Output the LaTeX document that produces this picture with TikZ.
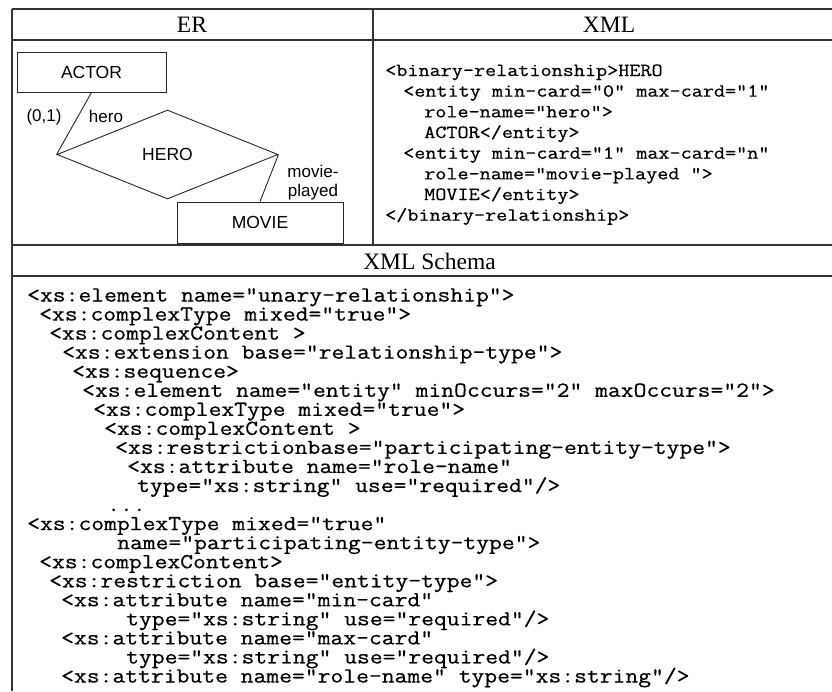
\documentclass[tikz,border=0pt]{standalone}
\usepackage{fontspec}
\usepackage{graphicx}
\setmainfont{Liberation Serif}
\setsansfont{Liberation Sans}
\newfontfamily\codefont{Latin Modern Mono}[FakeBold=0.5]
\newcommand{\vsq}[1]{\scalebox{1}[0.86]{#1}}
\usetikzlibrary{shapes.geometric}
\begin{document}
\begin{tikzpicture}[x=1pt,y=-1pt,
  rule/.style={line width=1.6pt, draw=black!80},
  er/.style={draw=black!85, line width=0.9pt},
  entitybox/.style={er, inner sep=0pt, font=\sffamily\fontsize{17.5}{18}\selectfont},
  lbl/.style={inner sep=0pt, font=\sffamily\fontsize{17}{18}\selectfont},
  head/.style={inner sep=0pt, font=\fontsize{23.5}{24}\selectfont},
  codeS/.style={anchor=base west, inner sep=0pt, text height=13pt, text depth=5pt,
                font=\codefont\fontsize{24.9}{20}\selectfont},
  codeX/.style={anchor=base west, inner sep=0pt, text height=14pt, text depth=5pt,
                font=\codefont\fontsize{21.55}{20}\selectfont}]
\useasboundingbox (0,0) rectangle (832,691);
% table rules
\draw[rule] (12,9) -- (832,9);
\draw[rule] (12,40) -- (832,40);
\draw[rule] (12,245) -- (832,245);
\draw[rule] (12,276) -- (832,276);
\draw[rule] (12,9) -- (12,691);
\draw[rule] (373,9) -- (373,245);
% headers
\node[head] (hER) at (192,25) {ER};
\node[head] (hXML) at (609,25) {XML};
\node[head] (hXS) at (429.5,261) {XML Schema};
% ER diagram
\node[entitybox, minimum width=149pt, minimum height=40pt] (actor) at (91.5,72) {ACTOR};
\node[entitybox, minimum width=166pt, minimum height=41pt] (movie) at (260,222.5) {MOVIE};
\node[er, diamond, minimum width=221pt, minimum height=89pt, inner sep=0pt,
      font=\sffamily\fontsize{17.5}{18}\selectfont] (hero) at (167.5,154.5) {HERO};
\draw[er] (actor.south) -- (hero.west);
\draw[er] (hero.east) -- (movie.north);
\node[lbl] (card) at (44,117) {(0,1)};
\node[lbl] (rhero) at (106,116) {hero};
\node[lbl] (rmov1) at (313,171) {movie-};
\node[lbl] (rmov2) at (313,192) {played};
% XML
\node[codeX] (x1) at (385,76) {\vsq{<binary-relationship>HERO}};
\node[codeX] (x2) at (403,96.67) {\vsq{<entity min-card="0" max-card="1"}};
\node[codeX] (x3) at (424,117.34) {\vsq{role-name="hero">}};
\node[codeX] (x4) at (424,138) {\vsq{ACTOR</entity>}};
\node[codeX] (x5) at (403,158.7) {\vsq{<entity min-card="1" max-card="n"}};
\node[codeX] (x6) at (424,179.35) {\vsq{role-name="movie-played ">}};
\node[codeX] (x7) at (424,200) {\vsq{MOVIE</entity>}};
\node[codeX] (x8) at (385,220.7) {\vsq{</binary-relationship>}};
% XML Schema
\node[codeS] (s1) at (27,301.5) {\vsq{<xs:element name="unary-relationship">}};
\node[codeS] (s2) at (39,320.55) {\vsq{<xs:complexType mixed="true">}};
\node[codeS] (s3) at (49,339.6) {\vsq{<xs:complexContent >}};
\node[codeS] (s4) at (62,358.65) {\vsq{<xs:extension base="relationship-type">}};
\node[codeS] (s5) at (72,377.7) {\vsq{<xs:sequence>}};
\node[codeS] (s6) at (82,396.75) {\vsq{<xs:element name="entity" minOccurs="2" maxOccurs="2">}};
\node[codeS] (s7) at (93,415.8) {\vsq{<xs:complexType mixed="true">}};
\node[codeS] (s8) at (104,434.85) {\vsq{<xs:complexContent >}};
\node[codeS] (s9) at (115,453.9) {\vsq{<xs:restrictionbase="participating-entity-type">}};
\node[codeS] (s10) at (127,472.95) {\vsq{<xs:attribute name="role-name"}};
\node[codeS] (s11) at (137,492) {\vsq{type="xs:string" use="required"/>}};
\node[codeS] (s12) at (107,511.05) {\vsq{...}};
\node[codeS] (s13) at (27,530.1) {\vsq{<xs:complexType mixed="true"}};
\node[codeS] (s14) at (117,549.15) {\vsq{name="participating-entity-type">}};
\node[codeS] (s15) at (39,568.2) {\vsq{<xs:complexContent>}};
\node[codeS] (s16) at (49,587.25) {\vsq{<xs:restriction base="entity-type">}};
\node[codeS] (s17) at (61,606.3) {\vsq{<xs:attribute name="min-card"}};
\node[codeS] (s18) at (126,625.35) {\vsq{type="xs:string" use="required"/>}};
\node[codeS] (s19) at (61,644.4) {\vsq{<xs:attribute name="max-card"}};
\node[codeS] (s20) at (126,663.45) {\vsq{type="xs:string" use="required"/>}};
\node[codeS] (s21) at (61,682.5) {\vsq{<xs:attribute name="role-name" type="xs:string"/>}};
\end{tikzpicture}
\end{document}
